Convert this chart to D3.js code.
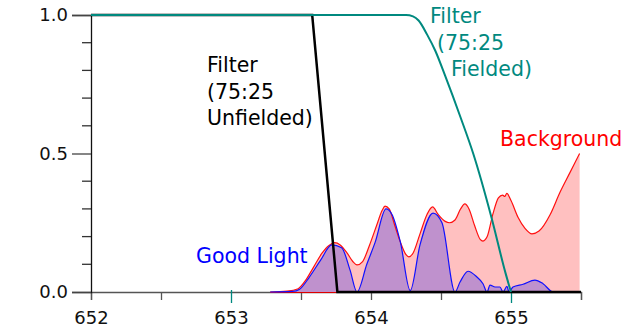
<!DOCTYPE html>
<html lang="en">
<head>
<meta charset="UTF-8">
<title>Filter vs Light</title>
<script src="https://d3js.org/d3.v7.min.js"></script>
<style>
  body { margin: 0; background: #fff; }
  text { font-family: "DejaVu Sans", sans-serif; }
</style>
</head>
<body>
<svg width="625" height="326"></svg>
<script>
    // wavelength (nm), value
    let background = [
        [653.28, 0], [653.40, 0.003], [653.48, 0.012], [653.53, 0.04], [653.59, 0.09],
        [653.65, 0.14], [653.70, 0.168], [653.74, 0.178], [653.78, 0.17], [653.83, 0.14],
        [653.87, 0.11], [653.90, 0.098], [653.94, 0.11], [653.99, 0.17], [654.04, 0.24],
        [654.08, 0.295], [654.10, 0.31], [654.13, 0.30], [654.17, 0.24], [654.21, 0.18],
        [654.25, 0.135], [654.27, 0.127], [654.30, 0.14], [654.35, 0.21], [654.40, 0.28],
        [654.44, 0.307], [654.48, 0.28], [654.53, 0.255], [654.56, 0.25], [654.60, 0.26],
        [654.64, 0.30], [654.67, 0.318], [654.70, 0.30], [654.74, 0.24], [654.78, 0.19],
        [654.80, 0.184], [654.83, 0.20], [654.87, 0.28], [654.91, 0.34], [654.94, 0.35],
        [654.955, 0.345], [654.97, 0.356], [655.00, 0.33], [655.05, 0.27], [655.10, 0.23],
        [655.15, 0.21], [655.20, 0.22], [655.28, 0.28], [655.35, 0.36], [655.42, 0.43],
        [655.49, 0.50]
    ]
    let goodLight = [
        [653.28, 0], [653.44, 0.002], [653.49, 0.01], [653.56, 0.054], [653.64, 0.115],
        [653.72, 0.17], [653.79, 0.16], [653.85, 0.08], [653.90, 0], [653.97, 0.10],
        [654.03, 0.18], [654.107, 0.30], [654.15, 0.28], [654.21, 0.18], [654.28, 0.005],
        [654.35, 0.17], [654.443, 0.285], [654.507, 0.25], [654.60, 0], [654.636, 0.036],
        [654.693, 0.075], [654.757, 0.054], [654.80, 0.03], [654.829, 0], [654.85, 0.025],
        [654.886, 0.018], [654.921, 0.018], [654.943, 0], [654.971, 0.02], [654.986, 0],
        [655.014, 0.018], [655.086, 0.028], [655.171, 0.043], [655.229, 0.03], [655.30, 0],
        [655.5, 0]
    ]
    let filterUnfielded = [[652, 1], [653.58, 1], [653.76, 0], [655.5, 0]]
    let filterFielded = [
        [652, 1], [654.25, 1], [654.30, 0.995], [654.34, 0.98], [654.40, 0.93],
        [654.46, 0.87], [654.53, 0.78], [654.64, 0.63], [654.73, 0.50], [654.86, 0.27],
        [654.96, 0.07], [655.0, 0]
    ]
    let xTicks = [652, 652.5, 653, 653.5, 654, 654.5, 655, 655.5]
    let xLabels = [652, 653, 654, 655]
    let yMajor = [0, 0.5, 1]
    let yMinor = [0.1, 0.2, 0.3, 0.4, 0.6, 0.7, 0.8, 0.9]
    let tealTicks = [653, 655]

    let svg = d3.select('svg')
    let teal = '#00897f'

    let x = d3.scaleLinear().domain([652, 655.5]).range([91, 581])
    let y = d3.scaleLinear().domain([0, 1]).range([292, 15])

    let area = d3.area().x(d => x(d[0])).y0(y(0)).y1(d => y(d[1])).curve(d3.curveMonotoneX)
    let line = d3.line().x(d => x(d[0])).y(d => y(d[1])).curve(d3.curveMonotoneX)
    let straight = d3.line().x(d => x(d[0])).y(d => y(d[1]))

    // x axis
    let xAxis = svg.append('g')
        .attr('transform', `translate(0,${y(0)})`)
        .call(d3.axisBottom(x).tickValues(xTicks).tickSize(8).tickFormat(d => xLabels.includes(d) ? d : ''))
    xAxis.select('.domain').attr('stroke', '#555').attr('stroke-width', 1.3)
    xAxis.selectAll('.tick line').attr('stroke', '#555').attr('stroke-width', 1.3)
    xAxis.selectAll('.tick')
        .filter(d => tealTicks.includes(d))
        .select('line').attr('stroke', teal).attr('y1', -2).attr('y2', 11)
    xAxis.selectAll('.tick text').attr('font-size', 18).attr('fill', '#111').attr('dy', 0).attr('y', 32)

    // y axis
    let yAxis = svg.append('g')
        .attr('transform', `translate(${x(652)},0)`)
        .call(d3.axisLeft(y).tickValues(yMajor).tickSize(19).tickFormat(d3.format('.1f')))
    yAxis.select('.domain').attr('stroke', '#111').attr('stroke-width', 1.3)
    yAxis.selectAll('.tick line').attr('stroke', '#444').attr('stroke-width', 1.3)
    yAxis.selectAll('.tick text').attr('font-size', 18).attr('fill', '#111').attr('x', -23)
    yAxis.selectAll('.minor')
        .data(yMinor)
        .enter()
        .append('line')
        .attr('x1', -9).attr('x2', 0)
        .attr('y1', d => y(d)).attr('y2', d => y(d))
        .attr('stroke', '#333').attr('stroke-width', 1.3)

    // fills
    svg.append('path').datum(background).attr('d', area).attr('fill', '#ffc0c0')
    svg.append('path').datum(goodLight).attr('d', area).attr('fill', '#bf91cd')

    // lines
    svg.append('line')
        .attr('x1', x(background[0][0])).attr('x2', x(655.5))
        .attr('y1', y(0) + 0.5).attr('y2', y(0) + 0.5)
        .attr('stroke', '#d00').attr('stroke-width', 1.2)
    svg.append('path').datum(background).attr('d', line)
        .attr('fill', 'none').attr('stroke', '#ff1010').attr('stroke-width', 1.2)
    svg.append('path').datum(goodLight).attr('d', line)
        .attr('fill', 'none').attr('stroke', '#1010ff').attr('stroke-width', 1.2)
    svg.append('path').datum(filterUnfielded).attr('d', straight)
        .attr('fill', 'none').attr('stroke', '#000').attr('stroke-width', 2.5)
    svg.append('path').datum(filterFielded).attr('d', line)
        .attr('fill', 'none').attr('stroke', teal).attr('stroke-width', 2)

    // labels
    function label(lines, px, py, color, dxs) {
        let t = svg.append('text').attr('font-size', 20.5).attr('fill', color)
        lines.forEach((s, i) => {
            t.append('tspan').attr('x', px + (dxs ? dxs[i] : 0)).attr('y', py + i * 26.7).text(s)
        })
    }
    label(['Filter', '(75:25', 'Unfielded)'], 207, 72, '#000')
    label(['Filter', '(75:25', 'Fielded)'], 430, 23, teal, [0, 7, 21])
    label(['Background'], 500, 146, '#ff0000')
    label(['Good Light'], 196, 263, '#0000ff')
</script>
</body>
</html>
